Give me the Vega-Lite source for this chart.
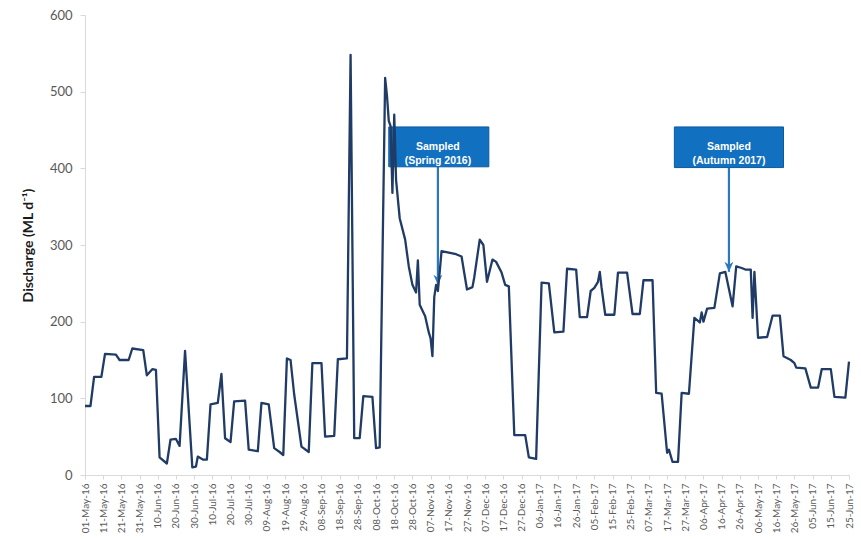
{
  "$schema": "https://vega.github.io/schema/vega-lite/v6.json",
  "width": 764,
  "height": 460,
  "autosize": {"type": "none"},
  "padding": {"left": 85, "top": 15, "right": 12, "bottom": 64},
  "background": "white",
  "config": {
    "view": {"stroke": null},
    "font": "Lato",
    "timeFormat": "%d-%b-%y",
    "axisX": {
      "tickCount": 100,
      "labelOverlap": false,
      "labelFlush": false,
      "labelAngle": -90,
      "labelFontSize": 10,
      "labelColor": "#595959",
      "labelPadding": 4,
      "grid": false,
      "domainColor": "#d9d9d9",
      "tickColor": "#d9d9d9",
      "tickSize": 4,
      "title": null
    }
  },
  "datasets": {
    "flow": [
      {"date": "2016-05-01", "discharge": 90},
      {"date": "2016-05-04", "discharge": 90},
      {"date": "2016-05-06", "discharge": 128},
      {"date": "2016-05-10", "discharge": 128},
      {"date": "2016-05-12", "discharge": 158},
      {"date": "2016-05-18", "discharge": 157},
      {"date": "2016-05-20", "discharge": 150},
      {"date": "2016-05-25", "discharge": 150},
      {"date": "2016-05-27", "discharge": 165},
      {"date": "2016-06-02", "discharge": 163},
      {"date": "2016-06-04", "discharge": 130},
      {"date": "2016-06-07", "discharge": 138},
      {"date": "2016-06-09", "discharge": 137},
      {"date": "2016-06-11", "discharge": 23},
      {"date": "2016-06-15", "discharge": 15},
      {"date": "2016-06-17", "discharge": 46},
      {"date": "2016-06-20", "discharge": 47},
      {"date": "2016-06-22", "discharge": 38},
      {"date": "2016-06-25", "discharge": 162},
      {"date": "2016-06-29", "discharge": 10},
      {"date": "2016-07-01", "discharge": 11},
      {"date": "2016-07-02", "discharge": 24},
      {"date": "2016-07-05", "discharge": 20},
      {"date": "2016-07-07", "discharge": 20},
      {"date": "2016-07-09", "discharge": 92},
      {"date": "2016-07-13", "discharge": 94},
      {"date": "2016-07-15", "discharge": 132},
      {"date": "2016-07-17", "discharge": 48},
      {"date": "2016-07-20", "discharge": 43},
      {"date": "2016-07-22", "discharge": 96},
      {"date": "2016-07-28", "discharge": 97},
      {"date": "2016-07-30", "discharge": 33},
      {"date": "2016-08-04", "discharge": 31},
      {"date": "2016-08-06", "discharge": 94},
      {"date": "2016-08-10", "discharge": 92},
      {"date": "2016-08-13", "discharge": 35},
      {"date": "2016-08-16", "discharge": 30},
      {"date": "2016-08-18", "discharge": 26},
      {"date": "2016-08-20", "discharge": 152},
      {"date": "2016-08-22", "discharge": 150},
      {"date": "2016-08-24", "discharge": 105},
      {"date": "2016-08-28", "discharge": 37},
      {"date": "2016-09-01", "discharge": 30},
      {"date": "2016-09-03", "discharge": 146},
      {"date": "2016-09-08", "discharge": 146},
      {"date": "2016-09-10", "discharge": 50},
      {"date": "2016-09-15", "discharge": 51},
      {"date": "2016-09-17", "discharge": 151},
      {"date": "2016-09-22", "discharge": 152},
      {"date": "2016-09-24", "discharge": 548},
      {"date": "2016-09-26", "discharge": 48},
      {"date": "2016-09-29", "discharge": 48},
      {"date": "2016-10-01", "discharge": 103},
      {"date": "2016-10-06", "discharge": 102},
      {"date": "2016-10-08", "discharge": 35},
      {"date": "2016-10-10", "discharge": 36},
      {"date": "2016-10-13", "discharge": 518},
      {"date": "2016-10-14", "discharge": 495},
      {"date": "2016-10-15", "discharge": 462},
      {"date": "2016-10-16", "discharge": 455},
      {"date": "2016-10-17", "discharge": 368},
      {"date": "2016-10-18", "discharge": 470},
      {"date": "2016-10-19", "discharge": 385},
      {"date": "2016-10-21", "discharge": 335},
      {"date": "2016-10-24", "discharge": 307},
      {"date": "2016-10-26", "discharge": 272},
      {"date": "2016-10-28", "discharge": 248},
      {"date": "2016-10-30", "discharge": 238},
      {"date": "2016-10-31", "discharge": 280},
      {"date": "2016-11-01", "discharge": 222},
      {"date": "2016-11-04", "discharge": 207},
      {"date": "2016-11-06", "discharge": 186},
      {"date": "2016-11-07", "discharge": 178},
      {"date": "2016-11-08", "discharge": 155},
      {"date": "2016-11-09", "discharge": 232},
      {"date": "2016-11-10", "discharge": 248},
      {"date": "2016-11-11", "discharge": 240},
      {"date": "2016-11-12", "discharge": 265},
      {"date": "2016-11-13", "discharge": 292},
      {"date": "2016-11-17", "discharge": 290},
      {"date": "2016-11-21", "discharge": 288},
      {"date": "2016-11-24", "discharge": 285},
      {"date": "2016-11-27", "discharge": 242},
      {"date": "2016-11-30", "discharge": 245},
      {"date": "2016-12-01", "discharge": 258},
      {"date": "2016-12-04", "discharge": 307},
      {"date": "2016-12-06", "discharge": 300},
      {"date": "2016-12-08", "discharge": 252},
      {"date": "2016-12-11", "discharge": 281},
      {"date": "2016-12-13", "discharge": 278},
      {"date": "2016-12-16", "discharge": 264},
      {"date": "2016-12-18", "discharge": 248},
      {"date": "2016-12-20", "discharge": 246},
      {"date": "2016-12-23", "discharge": 52},
      {"date": "2016-12-29", "discharge": 52},
      {"date": "2016-12-31", "discharge": 23},
      {"date": "2017-01-04", "discharge": 21},
      {"date": "2017-01-07", "discharge": 251},
      {"date": "2017-01-11", "discharge": 250},
      {"date": "2017-01-14", "discharge": 186},
      {"date": "2017-01-19", "discharge": 187},
      {"date": "2017-01-21", "discharge": 269},
      {"date": "2017-01-26", "discharge": 268},
      {"date": "2017-01-28", "discharge": 206},
      {"date": "2017-02-01", "discharge": 206},
      {"date": "2017-02-03", "discharge": 240},
      {"date": "2017-02-05", "discharge": 244},
      {"date": "2017-02-07", "discharge": 252},
      {"date": "2017-02-08", "discharge": 265},
      {"date": "2017-02-09", "discharge": 244},
      {"date": "2017-02-11", "discharge": 209},
      {"date": "2017-02-16", "discharge": 209},
      {"date": "2017-02-18", "discharge": 264},
      {"date": "2017-02-23", "discharge": 264},
      {"date": "2017-02-26", "discharge": 210},
      {"date": "2017-03-02", "discharge": 210},
      {"date": "2017-03-04", "discharge": 254},
      {"date": "2017-03-09", "discharge": 254},
      {"date": "2017-03-11", "discharge": 107},
      {"date": "2017-03-14", "discharge": 106},
      {"date": "2017-03-17", "discharge": 29},
      {"date": "2017-03-18", "discharge": 33},
      {"date": "2017-03-20", "discharge": 17},
      {"date": "2017-03-23", "discharge": 17},
      {"date": "2017-03-25", "discharge": 107},
      {"date": "2017-03-29", "discharge": 106},
      {"date": "2017-04-01", "discharge": 205},
      {"date": "2017-04-04", "discharge": 199},
      {"date": "2017-04-05", "discharge": 212},
      {"date": "2017-04-06", "discharge": 200},
      {"date": "2017-04-08", "discharge": 217},
      {"date": "2017-04-12", "discharge": 218},
      {"date": "2017-04-15", "discharge": 263},
      {"date": "2017-04-18", "discharge": 265},
      {"date": "2017-04-22", "discharge": 220},
      {"date": "2017-04-24", "discharge": 272},
      {"date": "2017-04-27", "discharge": 270},
      {"date": "2017-04-29", "discharge": 268},
      {"date": "2017-05-02", "discharge": 268},
      {"date": "2017-05-03", "discharge": 205},
      {"date": "2017-05-04", "discharge": 265},
      {"date": "2017-05-06", "discharge": 179},
      {"date": "2017-05-11", "discharge": 180},
      {"date": "2017-05-14", "discharge": 208},
      {"date": "2017-05-18", "discharge": 208},
      {"date": "2017-05-20", "discharge": 155},
      {"date": "2017-05-24", "discharge": 150},
      {"date": "2017-05-26", "discharge": 146},
      {"date": "2017-05-27", "discharge": 140},
      {"date": "2017-06-01", "discharge": 139},
      {"date": "2017-06-04", "discharge": 114},
      {"date": "2017-06-08", "discharge": 114},
      {"date": "2017-06-10", "discharge": 138},
      {"date": "2017-06-15", "discharge": 138},
      {"date": "2017-06-17", "discharge": 102},
      {"date": "2017-06-23", "discharge": 101},
      {"date": "2017-06-25", "discharge": 148}
    ],
    "callouts": [
      {"label": "Sampled\n(Spring 2016)", "start": "2016-10-15", "end": "2016-12-09", "date": "2016-11-11", "top": 454, "bottom": 402, "middle": 428, "tip": 248},
      {"label": "Sampled\n(Autumn 2017)", "start": "2017-03-21", "end": "2017-05-20", "date": "2017-04-20", "top": 454, "bottom": 401, "middle": 428, "tip": 265}
    ]
  },
  "layer": [
    {
      "data": {"name": "callouts"},
      "mark": {"type": "rule", "color": "#2A78C0", "strokeWidth": 2.2},
      "encoding": {
        "x": {"field": "date", "type": "temporal", "axis": {"tickCount": 100}},
        "y": {"field": "bottom", "type": "quantitative"},
        "y2": {"field": "tip"}
      }
    },
    {
      "data": {"name": "callouts"},
      "mark": {
        "type": "point",
        "shape": "M0,0L-0.9,-2L0,-1.4L0.9,-2Z",
        "size": 100,
        "filled": true,
        "opacity": 1,
        "color": "#2A78C0"
      },
      "encoding": {
        "x": {"field": "date", "type": "temporal", "axis": {"tickCount": 100}},
        "y": {"field": "tip", "type": "quantitative"}
      }
    },
    {
      "data": {"name": "callouts"},
      "mark": {"type": "rect", "fill": "#1170C0", "stroke": "#0B5A9E", "strokeWidth": 1},
      "encoding": {
        "x": {"field": "start", "type": "temporal", "axis": {"tickCount": 100}},
        "x2": {"field": "end"},
        "y": {"field": "top", "type": "quantitative"},
        "y2": {"field": "bottom"}
      }
    },
    {
      "data": {"name": "callouts"},
      "mark": {
        "type": "text",
        "font": "Liberation Sans",
        "fontSize": 10.5,
        "fontWeight": "bold",
        "color": "white",
        "align": "center",
        "baseline": "middle",
        "lineBreak": "\n",
        "lineHeight": 14
      },
      "encoding": {
        "x": {"field": "date", "type": "temporal", "axis": {"tickCount": 100}},
        "y": {"field": "middle", "type": "quantitative"},
        "text": {"field": "label"}
      }
    },
    {
      "data": {"name": "flow"},
      "mark": {"type": "line", "color": "#1F3B66", "strokeWidth": 2.3, "strokeJoin": "round"},
      "encoding": {
        "x": {
          "field": "date",
          "type": "temporal",
          "scale": {
            "type": "utc",
            "domain": [
              {"year": 2016, "month": 5, "date": 1, "utc": true},
              {"year": 2017, "month": 6, "date": 25, "utc": true}
            ]
          },
          "axis": {
            "title": null,
            "format": "%d-%b-%y",
            "labelOverlap": false,
            "tickCount": 100,
            "values": [
              {"year": 2016, "month": 5, "date": 1, "utc": true},
              {"year": 2016, "month": 5, "date": 11, "utc": true},
              {"year": 2016, "month": 5, "date": 21, "utc": true},
              {"year": 2016, "month": 5, "date": 31, "utc": true},
              {"year": 2016, "month": 6, "date": 10, "utc": true},
              {"year": 2016, "month": 6, "date": 20, "utc": true},
              {"year": 2016, "month": 6, "date": 30, "utc": true},
              {"year": 2016, "month": 7, "date": 10, "utc": true},
              {"year": 2016, "month": 7, "date": 20, "utc": true},
              {"year": 2016, "month": 7, "date": 30, "utc": true},
              {"year": 2016, "month": 8, "date": 9, "utc": true},
              {"year": 2016, "month": 8, "date": 19, "utc": true},
              {"year": 2016, "month": 8, "date": 29, "utc": true},
              {"year": 2016, "month": 9, "date": 8, "utc": true},
              {"year": 2016, "month": 9, "date": 18, "utc": true},
              {"year": 2016, "month": 9, "date": 28, "utc": true},
              {"year": 2016, "month": 10, "date": 8, "utc": true},
              {"year": 2016, "month": 10, "date": 18, "utc": true},
              {"year": 2016, "month": 10, "date": 28, "utc": true},
              {"year": 2016, "month": 11, "date": 7, "utc": true},
              {"year": 2016, "month": 11, "date": 17, "utc": true},
              {"year": 2016, "month": 11, "date": 27, "utc": true},
              {"year": 2016, "month": 12, "date": 7, "utc": true},
              {"year": 2016, "month": 12, "date": 17, "utc": true},
              {"year": 2016, "month": 12, "date": 27, "utc": true},
              {"year": 2017, "month": 1, "date": 6, "utc": true},
              {"year": 2017, "month": 1, "date": 16, "utc": true},
              {"year": 2017, "month": 1, "date": 26, "utc": true},
              {"year": 2017, "month": 2, "date": 5, "utc": true},
              {"year": 2017, "month": 2, "date": 15, "utc": true},
              {"year": 2017, "month": 2, "date": 25, "utc": true},
              {"year": 2017, "month": 3, "date": 7, "utc": true},
              {"year": 2017, "month": 3, "date": 17, "utc": true},
              {"year": 2017, "month": 3, "date": 27, "utc": true},
              {"year": 2017, "month": 4, "date": 6, "utc": true},
              {"year": 2017, "month": 4, "date": 16, "utc": true},
              {"year": 2017, "month": 4, "date": 26, "utc": true},
              {"year": 2017, "month": 5, "date": 6, "utc": true},
              {"year": 2017, "month": 5, "date": 16, "utc": true},
              {"year": 2017, "month": 5, "date": 26, "utc": true},
              {"year": 2017, "month": 6, "date": 5, "utc": true},
              {"year": 2017, "month": 6, "date": 15, "utc": true},
              {"year": 2017, "month": 6, "date": 25, "utc": true}
            ]
          }
        },
        "y": {
          "field": "discharge",
          "type": "quantitative",
          "scale": {"domain": [0, 600], "nice": false},
          "axis": {
            "title": "Discharge (ML d⁻¹)",
            "titleFontSize": 14,
            "titleFontWeight": "bold",
            "titleColor": "#1a1a1a",
            "titlePadding": 14,
            "values": [0, 100, 200, 300, 400, 500, 600],
            "labelFontSize": 13,
            "labelColor": "#595959",
            "labelPadding": 8,
            "grid": false,
            "domainColor": "#d9d9d9",
            "tickColor": "#d9d9d9",
            "tickSize": 5
          }
        }
      }
    }
  ]
}
